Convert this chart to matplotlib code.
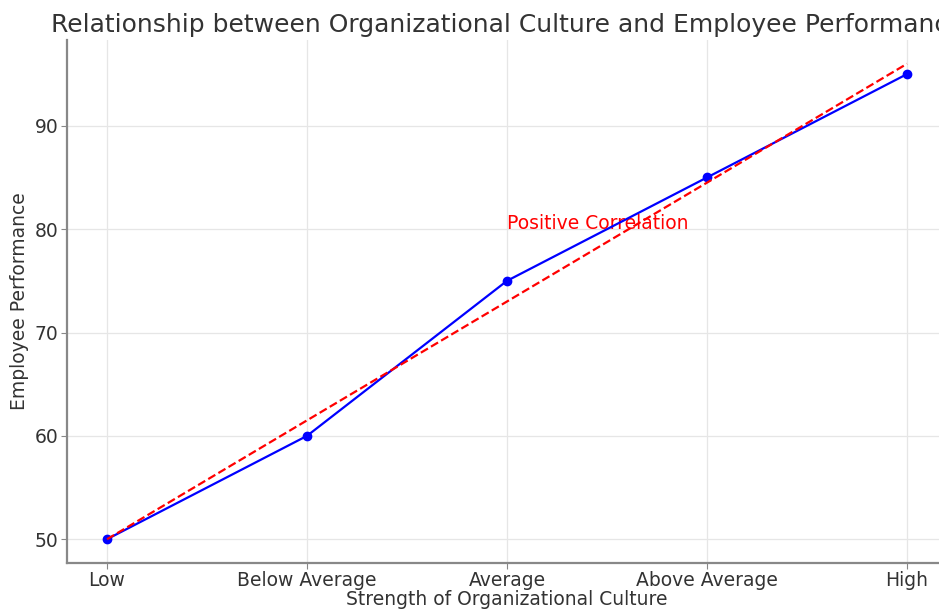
import numpy as np
import matplotlib
matplotlib.use("Agg")
import matplotlib.pyplot as plt

# culture strength levels vs. performance score
levels = ["Low", "Below Average", "Average", "Above Average", "High"]
performance = [50, 60, 75, 85, 95]

x = np.arange(len(levels))
# least-squares trend through the points
slope, intercept = np.polyfit(x, performance, 1)
trend = slope * x + intercept

fig = plt.figure(figsize=(9.39, 6.11), dpi=100)
ax = fig.add_axes([67/939, 48/611, 880/939, 523/611])

ax.plot(x, performance, color="blue", marker="o", markersize=6, linewidth=1.6, zorder=3)
ax.plot(x, trend, color="red", linestyle="--", linewidth=1.6, zorder=3)
ax.text(2, 80, "Positive Correlation", color="red", fontsize=13.5, zorder=2)

ax.set_xticks(x)
ax.set_xticklabels(levels)
ax.set_title("Relationship between Organizational Culture and Employee Performance",
             fontsize=18, color="#333333", pad=6)
ax.set_xlabel("Strength of Organizational Culture", fontsize=13.5, color="#333333", labelpad=0)
ax.set_ylabel("Employee Performance", fontsize=13.5, color="#333333", labelpad=4)

ax.grid(True, color="#e6e6e6", linewidth=0.9)
ax.set_axisbelow(True)
for side in ["top", "right"]:
    ax.spines[side].set_visible(False)
for side in ["left", "bottom"]:
    ax.spines[side].set_color("#888888")
    ax.spines[side].set_linewidth(1.6)
ax.tick_params(labelsize=13.5, colors="#333333", length=4, color="#888888", pad=2)

fig.savefig("out.png", dpi=100)
